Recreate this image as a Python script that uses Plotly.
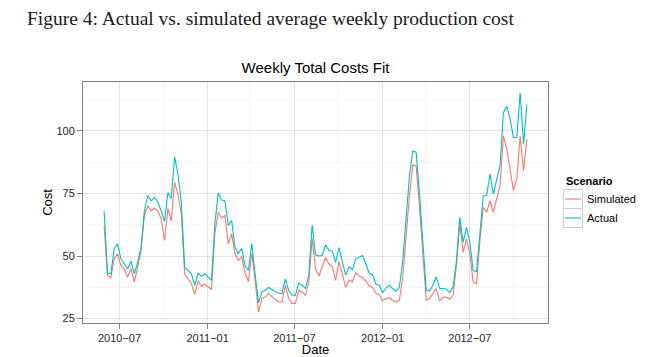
import pandas as pd
import plotly.graph_objects as go

# ---------------- data ----------------
start_date = "2010-05-30"          # first weekly observation
actual = [
    67.9, 43.2, 42.9, 52.9, 54.9, 48.9, 46.9, 44.9, 48.0, 42.9,
    47.5, 53.5, 68.1, 74.1, 72.1, 73.4, 71.5, 68.1, 63.8, 75.4,
    73.0, 89.7, 82.8, 71.5, 45.6, 44.2, 42.9, 38.3, 43.2, 41.9,
    42.9, 41.6, 40.3, 62.8, 75.2, 72.4, 72.1, 62.2, 64.2, 53.5,
    50.9, 53.1, 46.0, 44.2, 55.0, 42.9, 31.3, 35.6, 36.3, 37.4,
    36.6, 35.6, 35.0, 35.0, 40.9, 36.3, 34.3, 34.3, 39.2, 38.3,
    37.0, 42.3, 62.5, 50.5, 50.0, 50.2, 54.5, 52.2, 52.0, 47.5,
    53.4, 47.8, 42.5, 45.7, 44.5, 48.9, 49.5, 50.2, 46.9, 43.1,
    42.6, 38.7, 38.3, 35.3, 37.2, 38.3, 37.0, 35.9, 37.6, 48.0,
    65.0, 82.0, 92.0, 91.5, 75.0, 56.0, 36.4, 36.1, 38.3, 41.6,
    37.0, 37.0, 36.8, 35.4, 37.6, 48.0, 65.5, 55.5, 61.5, 55.5,
    44.2, 43.8, 57.5, 74.1, 74.1, 82.8, 74.8, 80.9, 86.1, 107.3,
    109.9, 104.7, 97.4, 97.4, 115.2, 94.7, 110.6,
]
simulated = [
    62.0, 42.3, 41.3, 48.9, 50.9, 46.2, 44.9, 41.6, 44.9, 39.6,
    45.6, 52.2, 66.2, 70.1, 68.1, 69.1, 68.1, 64.8, 56.2, 69.0,
    64.0, 79.4, 74.8, 66.8, 42.9, 40.9, 38.9, 34.7, 40.0, 37.9,
    38.7, 37.6, 36.6, 58.9, 67.5, 65.2, 66.2, 54.9, 58.9, 50.9,
    48.2, 49.8, 43.0, 39.8, 51.0, 40.3, 27.6, 33.0, 33.6, 35.0,
    33.6, 32.6, 31.6, 31.6, 38.3, 33.0, 31.0, 31.0, 36.3, 35.6,
    34.3, 39.6, 57.0, 45.0, 42.0, 45.6, 49.3, 46.9, 45.7, 40.3,
    47.8, 43.0, 37.5, 40.4, 39.6, 43.4, 42.0, 41.4, 40.0, 38.0,
    37.4, 35.2, 34.5, 32.1, 33.0, 33.4, 32.3, 31.6, 32.3, 41.5,
    58.0, 74.0, 86.5, 86.0, 69.5, 51.0, 32.4, 33.0, 35.1, 37.0,
    32.0, 33.5, 33.6, 32.8, 34.3, 46.0, 63.2, 51.5, 56.9, 50.9,
    39.6, 38.9, 56.0, 69.5, 67.5, 72.1, 67.5, 72.8, 78.1, 98.0,
    92.7, 84.8, 76.2, 80.9, 98.0, 84.1, 96.7,
]
series_names = ["Simulated", "Actual"]
series_colors = ["#F8766D", "#00BFC4"]
x_tick_vals = ["2010-07-01", "2011-01-01", "2011-07-01", "2012-01-01", "2012-07-01"]
x_tick_text = ["2010\u221207", "2011\u221201", "2011\u221207", "2012\u221201", "2012\u221207"]
x_minor_vals = ["2010-04-01", "2010-10-01", "2011-04-01", "2011-10-01", "2012-04-01", "2012-10-01"]
y_tick_vals = [25, 50, 75, 100]
y_minor_vals = [37.5, 62.5, 87.5, 112.5]

dates = pd.date_range(start_date, periods=len(actual), freq="7D")

# ggplot-style 5% expansion
span = dates[-1] - dates[0]
x_range = [dates[0] - 0.05 * span, dates[-1] + 0.05 * span]
all_vals = actual + simulated
ymin, ymax = min(all_vals), max(all_vals)
yr = ymax - ymin
y_range = [ymin - 0.05 * yr, ymax + 0.05 * yr]

# ---------------- figure ----------------
# the page body has an 8px default margin, so the figure is placed at (8, 8)
OFF = 8
W, H = 659 - OFF, 357 - OFF
ML, MR, MT, MB = 75, 111, 74, 34
PW, PH = W - ML - MR, H - MT - MB

def px_x(px):          # page pixel -> paper x
    return (px - OFF - ML) / PW

def px_y(py):          # page pixel -> paper y
    return (H - MB - (py - OFF)) / PH

fig = go.Figure()
for name, vals, col in zip(series_names, [simulated, actual], series_colors):
    fig.add_trace(go.Scatter(x=dates, y=vals, mode="lines", name=name,
                             line=dict(color=col, width=1.1), showlegend=False))

axis_common = dict(
    showline=True, mirror=True, linecolor="#7f7f7f", linewidth=1,
    ticks="outside", ticklen=5, tickwidth=1, tickcolor="#7f7f7f",
    showgrid=True, gridcolor="#e3e3e3", gridwidth=1, zeroline=False,
    tickfont=dict(family="Liberation Sans, Arial, sans-serif", size=11, color="#1e1e1e"),
    automargin=False,
)

fig.update_xaxes(
    type="date", range=x_range, tickmode="array",
    tickvals=x_tick_vals, ticktext=x_tick_text,
    minor=dict(tickvals=x_minor_vals, showgrid=True, gridcolor="#f6f6f6", gridwidth=0.6, ticklen=0),
    title=dict(text="Date", standoff=1,
               font=dict(family="Liberation Sans, Arial, sans-serif", size=13, color="#000")),
    **axis_common,
)
fig.update_yaxes(
    range=y_range, tickmode="array", tickvals=y_tick_vals,
    minor=dict(tickvals=y_minor_vals, showgrid=True, gridcolor="#f6f6f6", gridwidth=0.6, ticklen=0),
    title=dict(text="Cost", standoff=0,
               font=dict(family="Liberation Sans, Arial, sans-serif", size=13, color="#000")),
    **axis_common,
)

# ggplot-like legend drawn beside the panel
legend_items = [(series_names[0], series_colors[0], 189.5, 208.5),
                (series_names[1], series_colors[1], 208.5, 227.5)]
shapes = []
annotations = []
for name, col, y0, y1 in legend_items:
    shapes.append(dict(type="rect", xref="paper", yref="paper",
                       x0=px_x(563.5), x1=px_x(582.5), y0=px_y(y1), y1=px_y(y0),
                       line=dict(color="#cccccc", width=1), fillcolor="white", layer="above"))
    ym = (y0 + y1) / 2
    shapes.append(dict(type="line", xref="paper", yref="paper",
                       x0=px_x(565), x1=px_x(581), y0=px_y(ym), y1=px_y(ym),
                       line=dict(color=col, width=1.1), layer="above"))
    annotations.append(dict(text=name, xref="paper", yref="paper", x=px_x(585), y=px_y(ym),
                            xanchor="left", yanchor="middle", showarrow=False,
                            font=dict(family="Liberation Sans, Arial, sans-serif", size=11, color="#000")))
annotations.append(dict(text="<b>Scenario</b>", xref="paper", yref="paper", x=px_x(564), y=px_y(181),
                        xanchor="left", yanchor="middle", showarrow=False,
                        font=dict(family="Liberation Sans, Arial, sans-serif", size=11, color="#000")))
# document caption above the chart
annotations.append(dict(text="Figure 4: Actual vs. simulated average weekly production cost",
                        xref="paper", yref="paper", x=px_x(25), y=px_y(18),
                        xanchor="left", yanchor="middle", showarrow=False,
                        font=dict(family="Liberation Serif, serif", size=19.5, color="#1a1a1a")))

fig.update_layout(
    width=W, height=H,
    margin=dict(l=ML, r=MR, t=MT, b=MB, autoexpand=False),
    paper_bgcolor="white", plot_bgcolor="white",
    title=dict(text="Weekly Total Costs Fit", x=0.5, xref="paper", xanchor="center",
               y=1 - (68 - OFF) / H, yref="container", yanchor="middle",
               font=dict(family="Liberation Sans, Arial, sans-serif", size=15, color="#000")),
    shapes=shapes, annotations=annotations, showlegend=False,
)

fig.write_html("out.html")
